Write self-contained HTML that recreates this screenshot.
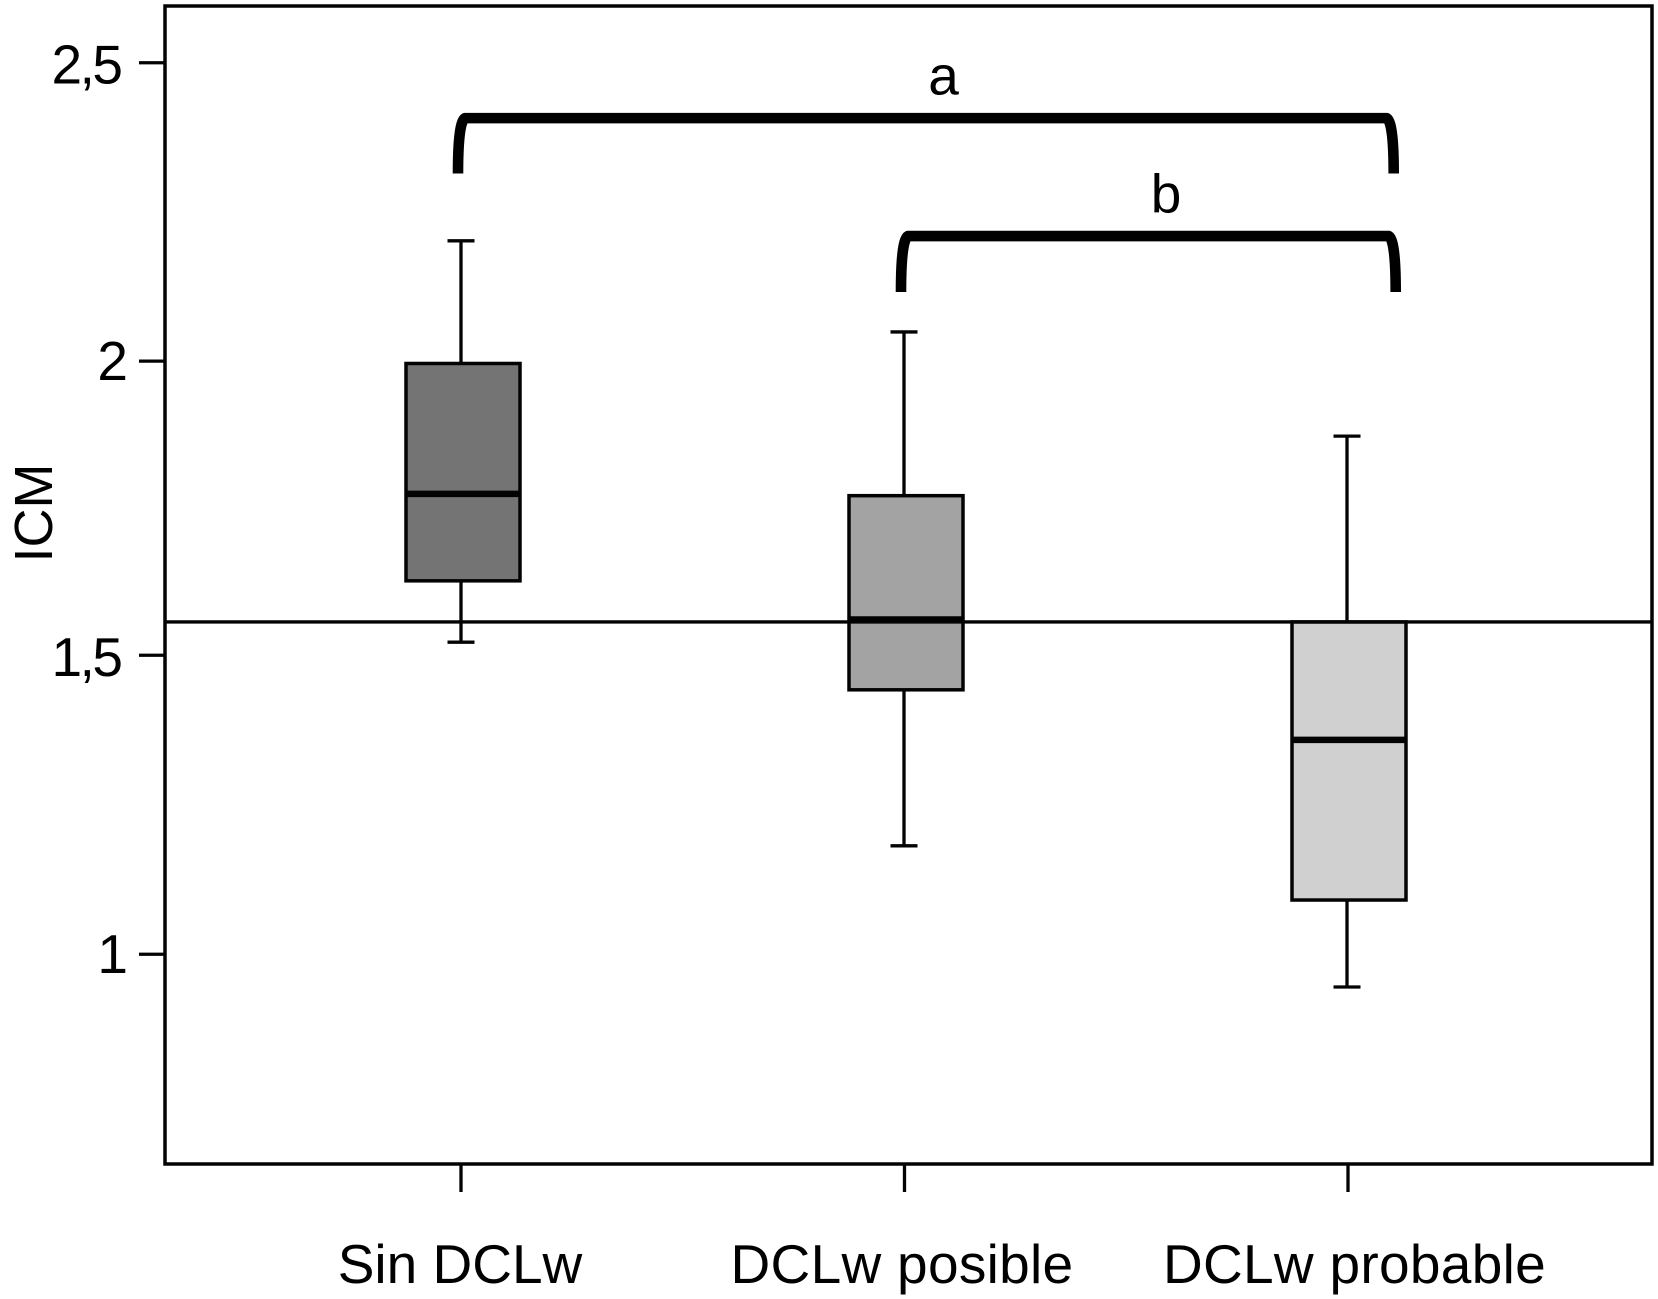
<!DOCTYPE html>
<html lang="es">
<head>
<meta charset="utf-8">
<title>ICM box plot</title>
<style>
html,body{margin:0;padding:0;background:#fff;}
svg{display:block;font-family:"Liberation Sans",Arial,sans-serif;fill:#000;}
</style>
</head>
<body>
<svg id="chart" xmlns="http://www.w3.org/2000/svg" width="1658" height="1299" viewBox="0 0 1658 1299"></svg>
<script>
const categories = ['Sin DCLw', 'DCLw posible', 'DCLw probable'];
const whiskerHigh = [2.201, 2.048, 1.873];
const q3Values = [1.995, 1.773, 1.561];
const medians = [1.776, 1.565, 1.363];
const q1Values = [1.630, 1.447, 1.094];
const whiskerLow = [1.527, 1.185, 0.948];
const yTicks = [2.5, 1.999, 1.505, 1.003];
const yTickLabels = ['2,5', '2', '1,5', '1'];
const referenceValue = [1.561];
const bracketLabels = ['a', 'b'];
const bracketFrom = [0, 1];
const bracketTo = [2, 2];
const bracketLevels = [2.407, 2.209];
const bracketLegEnds = [2.314, 2.115];

const boxColours = ['#747474', '#a3a3a3', '#d0d0d0'];
const INK = '#030303';
const NS = 'http://www.w3.org/2000/svg';
const svg = document.getElementById('chart');
const frame = {left: 165, top: 6, right: 1652, bottom: 1164};

function yScale(v) { return 956 - 595.5 * (v - 1); }
function xScale(i) { return 461 + 443 * i; }

function make(tag, attrs, text) {
  const el = document.createElementNS(NS, tag);
  for (const k in attrs) el.setAttribute(k, attrs[k]);
  if (text !== undefined) el.textContent = text;
  svg.appendChild(el);
  return el;
}
function line(x1, y1, x2, y2, w) {
  return make('line', {x1: x1, y1: y1, x2: x2, y2: y2, stroke: INK, 'stroke-width': w});
}

// Frame
const frameEl = make('rect', {x: frame.left, y: frame.top, width: frame.right - frame.left, height: frame.bottom - frame.top, fill: '#fff', stroke: INK, 'stroke-width': 3.5});



// Y axis
yTicks.forEach(function (v, i) {
  const y = yScale(v);
  const tick = line(139, y, frame.left, y, 3.3);
  
  
  const hasComma = yTickLabels[i].length > 1;
  const label = make('text', {x: hasComma ? 120.5 : 128, y: y + (hasComma ? 20.5 : 19), 'text-anchor': 'end', 'font-size': 55, 'letter-spacing': hasComma ? '-2.5' : '0'}, yTickLabels[i]);
  
  
});

const yTitle = make('text', {x: 0, y: 0, 'text-anchor': 'middle', 'font-size': 54, transform: 'translate(52 513) rotate(-90)'}, 'ICM');



// X axis
categories.forEach(function (c, i) {
  const x = xScale(i) + i * 0.5;
  const tick = line(x, frame.bottom, x, 1192, 3.3);
  
  
  const label = make('text', {x: x + [-1, -2.5, 6.5][i], y: 1283, 'text-anchor': 'middle', 'font-size': 55, 'letter-spacing': i > 0 ? '0.3' : '0'}, c);
  
  
});

// Boxes
categories.forEach(function (c, i) {
  const x = xScale(i);
  const hiY = yScale(whiskerHigh[i]);
  const loY = yScale(whiskerLow[i]);
  const topY = yScale(q3Values[i]);
  const botY = yScale(q1Values[i]);
  const medY = yScale(medians[i]);

  const whisker = line(x, hiY, x, loY, 3.3);
  
  
  const capHigh = line(x - 13.5, hiY, x + 13.5, hiY, 3.3);
  
  
  const capLow = line(x - 13.5, loY, x + 13.5, loY, 3.3);
  
  

  const box = make('rect', {x: x - 55, y: topY, width: 114, height: botY - topY, fill: boxColours[i], stroke: INK, 'stroke-width': 3.5});
  
  

  const med = line(x - 55, medY, x + 59, medY, 6.5);
  
  
});

// Reference line
const refY = yScale(referenceValue[0]);
const refLine = line(frame.left, refY, frame.right, refY, 3.3);



// Significance brackets
bracketLabels.forEach(function (t, i) {
  const xa = xScale(bracketFrom[i]) - 3;
  const xb = xScale(bracketTo[i]) + 46.7 + 2 * i;
  const y = yScale(bracketLevels[i]);
  const e = yScale(bracketLegEnds[i]);
  const inset = 7;
  const d = 'M' + xa + ' ' + e +
    ' C' + xa + ' ' + (y + 28) + ' ' + (xa + 1.5) + ' ' + (y + 3) + ' ' + (xa + inset) + ' ' + y +
    ' L' + (xb - inset) + ' ' + y +
    ' C' + (xb - 1.5) + ' ' + (y + 3) + ' ' + xb + ' ' + (y + 28) + ' ' + xb + ' ' + e;
  const bracket = make('path', {d: d, fill: 'none', stroke: '#000', 'stroke-width': 10.6, 'stroke-linejoin': 'round'});
  
  
  const label = make('text', {x: i === 0 ? 943.5 : 1166, y: y - 23.5, 'text-anchor': 'middle', 'font-size': 55}, t);
  
  
});
</script>
</body>
</html>
